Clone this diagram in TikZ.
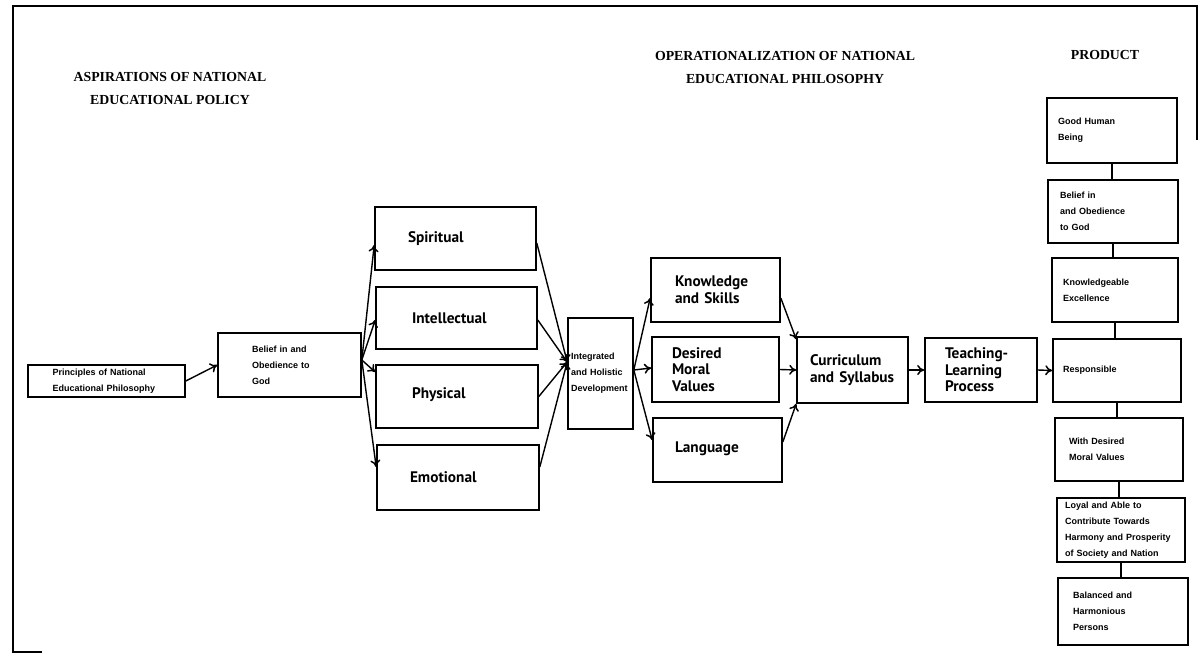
\documentclass[tikz,border=0pt]{standalone}
\usepackage{fontspec}
\setmainfont{Liberation Serif}
\newfontfamily\labelfont{PT Sans}
\newfontfamily\smallfont{Liberation Sans}
\usetikzlibrary{arrows.meta}

\tikzset{
  head/.style={font=\bfseries\fontsize{13.8}{23}\selectfont, align=center, inner sep=0pt},
  bigbox/.style={draw, line width=1.6pt, inner ysep=0pt, align=left,
    font=\labelfont\bfseries\fontsize{15.3}{16.5}\selectfont},
  tinybox/.style={draw, line width=1.6pt, inner ysep=0pt, align=left,
    font=\smallfont\bfseries\fontsize{9}{16}\selectfont},
  link/.style={line width=1.4pt, -{To[length=7pt,width=10pt,line width=1.5pt]}},
  tie/.style={line width=1.6pt},
  frame/.style={line width=2pt}
}

\begin{document}
\begin{tikzpicture}[x=1pt, y=-1pt]
\useasboundingbox (0,0) rectangle (1202,658);

% outer frame (partly open)
\draw[frame] (42,652) -- (13,652) -- (13,6) -- (1197,6) -- (1197,140);

% column headings
\node[head] (hAsp) at (170,88.5) {ASPIRATIONS OF NATIONAL\\EDUCATIONAL POLICY};
\node[head] (hOp) at (785,67.5) {OPERATIONALIZATION OF NATIONAL\\EDUCATIONAL PHILOSOPHY};
\node[head] (hProd) at (1105,55) {PRODUCT};

% aspirations
\node[tinybox, minimum height=32pt, inner xsep=24.5pt, text width=108pt] (princ) at (106.5,381)
  {Principles of National\\Educational Philosophy};
\node[tinybox, minimum height=64pt, inner xsep=34pt, text width=75pt] (belief) at (289.5,365)
  {Belief in and\\Obedience to\\God};

% four aspects of development
\node[bigbox, minimum height=63pt, inner xsep=33pt, text width=95pt] (spirit) at (455.5,238.5) {Spiritual};
\node[bigbox, minimum height=62pt, inner xsep=36pt, text width=89pt] (intel) at (456.5,318) {Intellectual};
\node[bigbox, minimum height=63pt, inner xsep=36pt, text width=90pt] (phys) at (457,396.5) {\raisebox{6pt}{Physical}};
\node[bigbox, minimum height=65pt, inner xsep=33pt, text width=96pt] (emo) at (458,477.5) {Emotional};

\node[tinybox, minimum height=111pt, inner xsep=3pt, text width=59pt] (integ) at (600.5,373.5)
  {Integrated\\and Holistic\\Development};

% operationalization
\node[bigbox, minimum height=64pt, inner xsep=24pt, text width=81pt] (ks) at (715.5,290) {Knowledge\\and Skills};
\node[bigbox, minimum height=65pt, inner xsep=20pt, text width=87pt] (dmv) at (715.5,369.5) {Desired\\Moral\\Values};
\node[bigbox, minimum height=64pt, inner xsep=22pt, text width=85pt] (lang) at (717.5,450) {\raisebox{6pt}{Language}};
\node[bigbox, minimum height=66pt, inner xsep=13pt, text width=85pt] (curr) at (852.5,370) {Curriculum\\and Syllabus};
\node[bigbox, minimum height=64pt, inner xsep=20pt, text width=72pt] (teach) at (981,370) {Teaching-\\Learning\\Process};

% product column
\node[tinybox, minimum height=65pt, inner xsep=11pt, text width=108pt] (good) at (1112,130.5) {Good Human\\Being};
\node[tinybox, minimum height=63pt, inner xsep=12pt, text width=106pt] (faith) at (1113,211.5) {Belief in\\and Obedience\\to God};
\node[tinybox, minimum height=64pt, inner xsep=11pt, text width=104pt] (know) at (1115,290) {Knowledgeable\\Excellence};
\node[tinybox, minimum height=63pt, inner xsep=10pt, text width=108pt] (resp) at (1117,370.5) {Responsible};
\node[tinybox, minimum height=63pt, inner xsep=14pt, text width=100pt] (moral) at (1119,449.5) {With Desired\\Moral Values};
\node[tinybox, minimum height=64pt, inner xsep=8pt, text width=112pt] (loyal) at (1121,530)
  {Loyal and Able to\\Contribute Towards\\Harmony and Prosperity\\of Society and Nation};
\node[tinybox, minimum height=67pt, inner xsep=15pt, text width=100pt] (bal) at (1123,611.5) {Balanced and\\Harmonious\\Persons};

% flow of aspirations
\draw[link] (princ.east) -- (belief.west);
\draw[link] ([yshift=5pt]belief.east) -- ([yshift=-6.5pt]spirit.west);
\draw[link] ([yshift=5pt]belief.east) -- ([yshift=-2pt]intel.west);
\draw[link] ([yshift=5pt]belief.east) -- ([yshift=24.5pt]phys.west);
\draw[link] ([yshift=5pt]belief.east) -- ([yshift=10.5pt]emo.west);

\draw[link] ([yshift=-4.5pt]spirit.east) -- ([yshift=11.5pt]integ.west);
\draw[link] ([yshift=-2pt]intel.east) -- ([yshift=11.5pt]integ.west);
\draw[link] (phys.east) -- ([yshift=11.5pt]integ.west);
\draw[link] ([yshift=10.5pt]emo.east) -- ([yshift=11.5pt]integ.west);

% operationalization flow
\draw[link] ([yshift=3.5pt]integ.east) -- ([yshift=-8pt]ks.west);
\draw[link] ([yshift=3.5pt]integ.east) -- ([yshift=1.5pt]dmv.west);
\draw[link] ([yshift=3.5pt]integ.east) -- ([yshift=10pt]lang.west);

\draw[link] ([yshift=-8pt]ks.east) -- ([yshift=-3pt]curr.north west);
\draw[link] (dmv.east) -- (curr.west);
\draw[link] ([yshift=8pt]lang.east) -- (curr.south west);

\draw[link] (curr.east) -- (teach.west);
\draw[link] (teach.east) -- (resp.west);

% product chain
\draw[tie] (good.south) -- (good.south |- faith.north);
\draw[tie] (faith.south) -- (faith.south |- know.north);
\draw[tie] (know.south) -- (know.south |- resp.north);
\draw[tie] (resp.south) -- (resp.south |- moral.north);
\draw[tie] (moral.south) -- (moral.south |- loyal.north);
\draw[tie] (loyal.south) -- (loyal.south |- bal.north);
\end{tikzpicture}
\end{document}
